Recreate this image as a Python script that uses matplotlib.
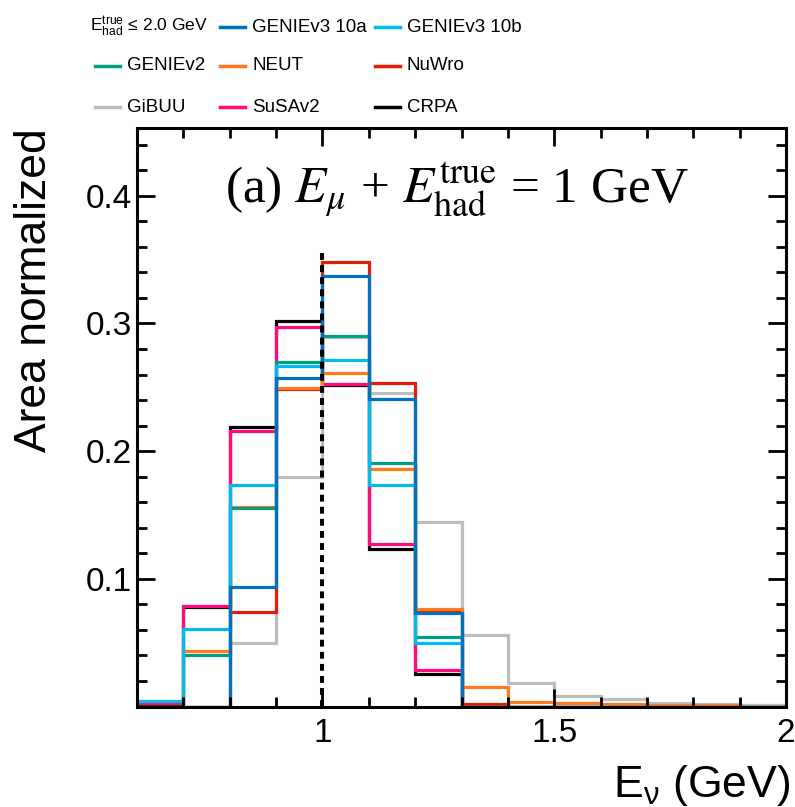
import matplotlib
matplotlib.use("Agg")
import matplotlib.pyplot as plt
import numpy as np
from matplotlib import font_manager
from matplotlib.lines import Line2D
from matplotlib.ticker import FixedLocator, MultipleLocator

# bin edges (GeV) and area-normalized contents per generator
edges = np.round(np.arange(0.6, 2.0001, 0.1), 2)

genie3_10a = [0.0, 0.0, 0.0935, 0.2574, 0.337, 0.241, 0.0731, 0.0, 0.0, 0.0, 0.0, 0.0, 0.0, 0.0]
genie3_10b = [0.0045, 0.0605, 0.1737, 0.267, 0.271, 0.1735, 0.050, 0.0, 0.0, 0.0, 0.0, 0.0, 0.0, 0.0]
genie2 = [0.0, 0.0401, 0.1554, 0.270, 0.290, 0.1904, 0.0548, 0.0, 0.0, 0.0, 0.0, 0.0, 0.0, 0.0]
neut = [0.0, 0.0433, 0.156, 0.2498, 0.261, 0.186, 0.0765, 0.0153, 0.0035, 0.003, 0.002, 0.0015, 0.001, 0.0]
nuwro = [0.0, 0.0, 0.0739, 0.2488, 0.348, 0.2535, 0.074, 0.002, 0.0, 0.0, 0.0, 0.0, 0.0, 0.0]
gibuu = [0.0, 0.0, 0.0496, 0.180, 0.289, 0.2453, 0.1445, 0.056, 0.0187, 0.0082, 0.0056, 0.003, 0.002, 0.001]
susav2 = [0.003, 0.0788, 0.216, 0.297, 0.2527, 0.1275, 0.0284, 0.0, 0.0, 0.0, 0.0, 0.0, 0.0, 0.0]
crpa = [0.002, 0.078, 0.2187, 0.3018, 0.252, 0.1233, 0.0252, 0.0, 0.0, 0.0, 0.0, 0.0, 0.0, 0.0]

names = ["GENIEv3 10a", "GENIEv3 10b", "GENIEv2", "NEUT", "NuWro", "GiBUU", "SuSAv2", "CRPA"]
series = [genie3_10a, genie3_10b, genie2, neut, nuwro, gibuu, susav2, crpa]
colors = ["#0072BD", "#00BBEE", "#009E84", "#FF7A1A", "#E01E0A", "#BDBDBD", "#FF0A7A", "#000000"]

installed = {f.name for f in font_manager.fontManager.ttflist}
sans = "Liberation Sans"
narrow = "Liberation Sans Narrow" if "Liberation Sans Narrow" in installed else sans
legend_size = 15.5 if narrow != sans else 13.5
header_size = legend_size - 1

plt.rcParams["font.family"] = [sans, "DejaVu Sans"]
plt.rcParams["mathtext.fontset"] = "custom"
plt.rcParams["mathtext.rm"] = sans
plt.rcParams["mathtext.it"] = sans + ":italic"

fig = plt.figure(figsize=(7.95, 8.07), dpi=100)
ax = fig.add_axes([0.1723, 0.1245, 0.8165, 0.7168])

# draw back to front so GENIEv3 10a ends up on top
for name, vals, col in reversed(list(zip(names, series, colors))):
    ax.stairs(vals, edges, color=col, lw=2.3, baseline=0)

ax.vlines(1.0, 0, 0.358, colors="black", linestyles=(0, (1.7, 1.3)), lw=2.9, zorder=10)

ax.set_xlim(0.6, 2.0)
ax.set_ylim(0, 0.453)
ax.xaxis.set_major_locator(FixedLocator([1.0, 1.5, 2.0]))
ax.xaxis.set_minor_locator(MultipleLocator(0.1))
ax.set_xticklabels(["1", "1.5", "2"])
ax.yaxis.set_major_locator(FixedLocator([0.1, 0.2, 0.3, 0.4]))
ax.yaxis.set_minor_locator(MultipleLocator(0.02))
ax.set_yticklabels(["0.1", "0.2", "0.3", "0.4"])

for s in ax.spines.values():
    s.set_linewidth(2.2)
ax.tick_params(which="both", direction="in", top=True, right=True, width=2.0, labelsize=24)
ax.tick_params(which="major", length=13)
ax.tick_params(which="minor", length=7)
ax.tick_params(axis="x", pad=8)
ax.tick_params(axis="y", pad=3.5)

ax.text(0.135, 0.872, r"(a) $E_\mu$ + $E_{\rm had}^{\rm true}$ = 1 GeV",
        transform=ax.transAxes, fontsize=37, family=["Liberation Serif", "DejaVu Serif"],
        math_fontfamily="stix", va="baseline", ha="left")

fig.text(35 / 795, 1 - 128 / 807, "Area normalized", rotation=90, ha="center", va="top", fontsize=32)
fig.text(790 / 795, 10 / 807, r"E$_{\rm ν}$ (GeV)", ha="right", va="baseline", fontsize=32)

# legend: header plus 3x3 grid filled column by column
fig.text(90 / 795, 1 - 27 / 807, r"E$^{\rm true}_{\rm had}$ ≤ 2.0 GeV", ha="left", va="center",
         fontsize=header_size, family=[narrow, "DejaVu Sans"])
line_x = [95, 220, 375]
row_y = [27, 66, 107]
slots = [(1, 0), (2, 0), (0, 1), (1, 1), (2, 1), (0, 2), (1, 2), (2, 2)]
slot_names = ["GENIEv2", "GiBUU", "GENIEv3 10a", "NEUT", "SuSAv2", "GENIEv3 10b", "NuWro", "CRPA"]
for nm, (r, c) in zip(slot_names, slots):
    col = colors[names.index(nm)]
    x0 = line_x[c]
    y0 = 1 - row_y[r] / 807
    fig.add_artist(Line2D([x0 / 795, (x0 + 25) / 795], [y0, y0], color=col, lw=2.5))
    fig.text((x0 + 32) / 795, y0, nm, ha="left", va="center", fontsize=legend_size,
             family=[narrow, "DejaVu Sans"])

fig.savefig("out.png", dpi=100)
